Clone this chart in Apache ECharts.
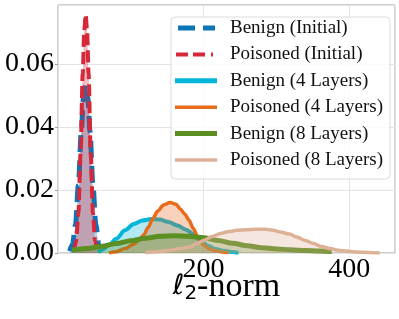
<!DOCTYPE html>
<html><head><meta charset="utf-8">
<script src="https://cdn.jsdelivr.net/npm/echarts@6/dist/echarts.min.js"></script>
<style>html,body{margin:0;padding:0;background:#fff}#c{width:399px;height:319px}</style>
</head><body><div id="c"></div>
<script>
const seriesNames = ['Benign (Initial)','Poisoned (Initial)','Benign (4 Layers)','Poisoned (4 Layers)','Benign (8 Layers)','Poisoned (8 Layers)'];
const xTicks = [0, 200, 400];
const yTicks = [0, 0.02, 0.04, 0.06];
const benignInitial = [[16,0.0006],[20,0.0028],[24,0.0090],[28,0.0215],[32,0.0385],[35,0.0493],[38,0.0535],[41,0.0493],[44,0.0385],[48,0.0215],[52,0.0090],[56,0.0028],[60,0.0006]];
const poisonedInitial = [[22,0.0008],[25,0.0038],[28,0.0127],[31,0.0316],[34,0.0570],[36,0.0704],[38,0.0756],[40,0.0704],[42,0.0570],[45,0.0316],[48,0.0127],[51,0.0038],[54,0.0008]];
const benign4 = [[55,0.0002],[62,0.0012],[70,0.0025],[80,0.0045],[92,0.0072],[104,0.0092],[116,0.0103],[128,0.0108],[140,0.0106],[152,0.0098],[164,0.0087],[176,0.0074],[186,0.0060],[196,0.0041],[206,0.0023],[216,0.0013],[228,0.0007],[240,0.0003],[248,0.0001]];
const poisoned4 = [[70,0.0000],[80,0.0004],[92,0.0014],[104,0.0028],[112,0.0043],[118,0.0058],[124,0.0082],[130,0.0108],[137,0.0133],[145,0.0152],[154,0.0160],[162,0.0155],[168,0.0140],[174,0.0124],[180,0.0104],[186,0.0078],[192,0.0050],[200,0.0025],[208,0.0013],[216,0.0007],[226,0.0003],[234,0.0001]];
const benign8 = [[19,0.0009],[40,0.0014],[60,0.0021],[80,0.0030],[100,0.0039],[120,0.0047],[140,0.0053],[160,0.0055],[180,0.0053],[200,0.0048],[220,0.0040],[240,0.0031],[260,0.0023],[280,0.0017],[300,0.0013],[320,0.0010],[340,0.0008],[360,0.0006],[376,0.0005]];
const poisoned8 = [[120,0.0001],[137,0.0004],[154,0.0009],[168,0.0014],[182,0.0020],[191,0.0030],[200,0.0040],[212,0.0052],[223,0.0062],[235,0.0068],[246,0.0072],[260,0.0074],[272,0.0075],[285,0.0075],[296,0.0072],[305,0.0067],[318,0.0060],[328,0.0051],[340,0.0040],[351,0.0030],[362,0.0021],[374,0.0014],[385,0.0009],[396,0.0006],[408,0.0003],[419,0.0002],[432,0.0001],[442,0.0000]];

const colors = ['#0c75b6','#d62839','#03b5d8','#e86a1b','#5b8f22','#ddb196'];
const widths = [5,4,4,3.5,5,3.5];
const dashes = [[17,8],[12,5],'solid','solid','solid','solid'];
const datas = [benignInitial, poisonedInitial, benign4, poisoned4, benign8, poisoned8];
// legend glyphs (line samples), 42 x 6 box
const legendIcons = [
  'path://M0,0L0,6L0,0Z M3,0.5H20V5.5H3Z M28,0.5H40V5.5H28Z M42,0L42,6L42,0Z',
  'path://M0,0L0,6L0,0Z M1,1H13V5H1Z M18,1H30V5H18Z M36,1H38V5H36Z M42,0L42,6L42,0Z',
  'path://M0,0L0,6L0,0Z M0,0.5H42V5.5H0Z M42,0L42,6L42,0Z',
  'path://M0,0L0,6L0,0Z M0,1.2H42V4.8H0Z M42,0L42,6L42,0Z',
  'path://M0,0L0,6L0,0Z M0,0.5H42V5.5H0Z M42,0L42,6L42,0Z',
  'path://M0,0L0,6L0,0Z M0,1.2H42V4.8H0Z M42,0L42,6L42,0Z'
];

const chart = echarts.init(document.getElementById('c'), null, {renderer:'canvas'});
const series = seriesNames.map((n,i)=>({
  name:n, type:'line', data:datas[i], smooth:0.3, smoothMonotone:'x',
  symbol:'none', showSymbol:false, z: 2+i,
  lineStyle:{color:colors[i], width:widths[i], type:dashes[i]},
  itemStyle:{color:colors[i]},
  areaStyle:{color:colors[i], opacity:0.3}
}));
chart.setOption({
  animation:false,
  grid:{left:58, right:4, top:5, bottom:66, show:true, borderColor:'#a0a0a0', borderWidth:1, backgroundColor:'#fff'},
  xAxis:{type:'value', min:0, max:463, interval:200,
    axisLine:{show:false}, axisTick:{show:false},
    splitLine:{show:true, lineStyle:{color:'#e3e3e3', width:1}},
    axisLabel:{showMinLabel:false, showMaxLabel:false, fontFamily:'Liberation Serif', fontSize:28, color:'#000', margin:3},
    name:'{l|ℓ}{s|2}{n|-norm}', nameLocation:'middle', nameGap:17, nameMoveOverlap:false,
    nameTextStyle:{rich:{
      l:{fontFamily:'DejaVu Sans', fontStyle:'italic', fontSize:28, lineHeight:34, color:'#000'},
      s:{fontFamily:'DejaVu Sans', fontSize:20, lineHeight:14, verticalAlign:'bottom', color:'#000'},
      n:{fontFamily:'Liberation Serif', fontSize:34, lineHeight:34, color:'#000'}
    }}
  },
  yAxis:{type:'value', min:0, max:0.0787, interval:0.02,
    axisLine:{show:false}, axisTick:{show:true, length:3, lineStyle:{color:'#a0a0a0'}},
    splitLine:{show:true, lineStyle:{color:'#e3e3e3', width:1}},
    axisLabel:{showMaxLabel:false, fontFamily:'Liberation Serif', fontSize:28, color:'#000', margin:4,
      formatter:v=>v.toFixed(2)}
  },
  legend:{orient:'vertical', left:171, top:17, itemWidth:42, itemHeight:6, itemGap:6.4,
    padding:[1,7,9,4], backgroundColor:'rgba(255,255,255,0.85)', borderColor:'#dcdcdc', borderWidth:1, borderRadius:4,
    textStyle:{fontFamily:'Liberation Serif', fontSize:19, color:'#111', lineHeight:20, padding:[0,0,0,8]},
    data:seriesNames.map((n,i)=>({name:n, icon:legendIcons[i], itemStyle:{color:colors[i]}}))},
  series:series
});
</script></body></html>
